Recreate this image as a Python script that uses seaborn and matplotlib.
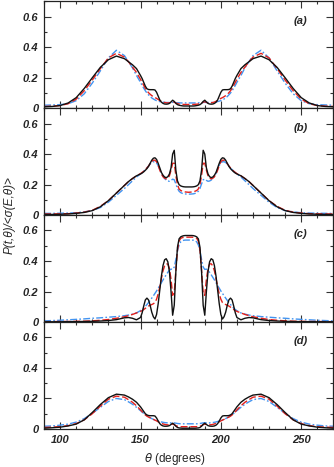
import matplotlib
matplotlib.use("Agg")
import matplotlib.pyplot as plt
import seaborn as sns
import pandas as pd
from matplotlib.ticker import MultipleLocator, FuncFormatter

theta = [90, 95, 100, 105, 110, 115, 120, 125, 130, 135, 140, 142.5, 145, 147.5,
         150, 151, 152, 153, 154, 155, 156, 157, 158, 159,
         160, 161, 162, 163, 164, 165, 166, 167, 168, 169,
         170, 171, 172, 173, 174, 175, 176, 177, 178, 179,
         180,
         181, 182, 183, 184, 185, 186, 187, 188, 189, 190,
         191, 192, 193, 194, 195, 196, 197, 198, 199, 200,
         201, 202, 203, 204, 205, 206, 207, 208, 209, 210,
         212.5, 215, 217.5,
         220, 225, 230, 235, 240, 245, 250, 255, 260, 265, 270]

a_black = [.010,.012,.018,.035,.070,.130,.200,.268,.318,.342,.325,
           .305,.285,.260,
           .215,.195,.170,.145,.128,.123,.122,.122,.122,.120,
           .105,.080,.055,.040,.032,.028,.027,.028,.032,.042,
           .053,.045,.032,.024,.020,.018,.016,.015,.015,.015,
           .015,
           .015,.015,.015,.016,.018,.020,.024,.032,.045,.053,
           .042,.032,.028,.027,.028,.032,.040,.055,.080,.105,
           .120,.122,.122,.122,.123,.128,.145,.170,.195,.215,
           .260,.285,.305,
           .325,.342,.318,.268,.200,.130,.070,.035,.018,.012,.010]
a_red = [.012,.014,.018,.030,.060,.115,.185,.260,.330,.360,.335,
         .305,.270,.235,
         .190,.170,.150,.130,.115,.102,.092,.083,.076,.070,
         .065,.058,.051,.046,.041,.038,.036,.035,.036,.039,
         .043,.040,.035,.031,.028,.027,.026,.025,.025,.025,
         .025,
         .025,.025,.025,.026,.027,.028,.031,.035,.040,.043,
         .039,.036,.035,.036,.038,.041,.046,.051,.058,.065,
         .070,.076,.083,.092,.102,.115,.130,.150,.170,.190,
         .235,.270,.305,
         .335,.360,.330,.260,.185,.115,.060,.030,.018,.014,.012]
a_blue = [.020,.022,.024,.030,.050,.095,.165,.245,.330,.380,.345,
          .305,.265,.215,
          .170,.150,.132,.115,.100,.088,.077,.068,.061,.055,
          .050,.047,.044,.042,.040,.039,.038,.038,.038,.038,
          .039,.038,.037,.036,.036,.035,.035,.035,.035,.035,
          .035,
          .035,.035,.035,.035,.035,.036,.036,.037,.038,.039,
          .038,.038,.038,.038,.039,.040,.042,.044,.047,.050,
          .055,.061,.068,.077,.088,.100,.115,.132,.150,.170,
          .215,.265,.305,
          .345,.380,.330,.245,.165,.095,.050,.030,.024,.022,.020]

b_black = [.005,.005,.006,.008,.012,.018,.030,.055,.095,.145,.195,
           .220,.240,.258,
           .270,.276,.284,.294,.305,.320,.340,.360,.373,.376,
           .365,.340,.310,.280,.262,.250,.246,.252,.270,.310,
           .400,.425,.295,.225,.200,.192,.188,.186,.185,.185,
           .185,
           .185,.185,.186,.188,.192,.200,.225,.295,.425,.400,
           .310,.270,.252,.246,.250,.262,.280,.310,.340,.365,
           .376,.373,.360,.340,.320,.305,.294,.284,.276,.270,
           .258,.240,.220,
           .195,.145,.095,.055,.030,.018,.012,.008,.006,.005,.005]
b_red = [.008,.008,.009,.010,.014,.020,.032,.058,.095,.145,.195,
         .220,.240,.258,
         .272,.280,.288,.298,.310,.322,.338,.352,.360,.360,
         .350,.325,.295,.270,.252,.242,.238,.242,.258,.295,
         .340,.340,.260,.200,.172,.162,.157,.154,.152,.151,
         .150,
         .151,.152,.154,.157,.162,.172,.200,.260,.340,.340,
         .295,.258,.242,.238,.242,.252,.270,.295,.325,.350,
         .360,.360,.352,.338,.322,.310,.298,.288,.280,.272,
         .258,.240,.220,
         .195,.145,.095,.058,.032,.020,.014,.010,.009,.008,.008]
b_blue = [.012,.012,.013,.014,.016,.022,.030,.050,.085,.130,.175,
          .200,.225,.250,
          .270,.278,.288,.298,.310,.322,.335,.345,.350,.350,
          .342,.325,.300,.275,.255,.240,.230,.224,.222,.228,
          .236,.232,.205,.175,.157,.148,.143,.140,.139,.138,
          .138,
          .138,.139,.140,.143,.148,.157,.175,.205,.232,.236,
          .228,.222,.224,.230,.240,.255,.275,.300,.325,.342,
          .350,.350,.345,.335,.322,.310,.298,.288,.278,.270,
          .250,.225,.200,
          .175,.130,.085,.050,.030,.022,.016,.014,.013,.012,.012]

c_black = [.002,.002,.002,.003,.003,.004,.005,.007,.010,.016,.028,
           .030,.025,.015,
           .030,.060,.105,.145,.157,.145,.110,.065,.035,.020,
           .050,.120,.210,.300,.370,.408,.415,.395,.330,.200,
           .045,.110,.330,.490,.545,.558,.563,.566,.567,.567,
           .567,
           .567,.567,.566,.563,.558,.545,.490,.330,.110,.045,
           .200,.330,.395,.415,.408,.370,.300,.210,.120,.050,
           .020,.035,.065,.110,.145,.157,.145,.105,.060,.030,
           .015,.025,.030,
           .028,.016,.010,.007,.005,.004,.003,.003,.002,.002,.002]
c_red = [.003,.003,.004,.004,.005,.006,.008,.012,.017,.025,.035,
         .042,.050,.060,
         .070,.075,.082,.090,.098,.105,.110,.115,.120,.128,
         .150,.185,.230,.285,.335,.368,.382,.380,.350,.280,
         .175,.190,.340,.470,.530,.548,.553,.555,.556,.556,
         .556,
         .556,.556,.555,.553,.548,.530,.470,.340,.190,.175,
         .280,.350,.380,.382,.368,.335,.285,.230,.185,.150,
         .128,.120,.115,.110,.105,.098,.090,.082,.075,.070,
         .060,.050,.042,
         .035,.025,.017,.012,.008,.006,.005,.004,.004,.003,.003]
c_blue = [.008,.010,.012,.015,.018,.021,.025,.028,.032,.036,.042,
          .046,.052,.060,
          .075,.082,.092,.103,.115,.128,.142,.157,.172,.188,
          .204,.222,.240,.258,.276,.293,.310,.326,.340,.347,
          .345,.360,.410,.465,.505,.525,.533,.536,.537,.537,
          .537,
          .537,.537,.536,.533,.525,.505,.465,.410,.360,.345,
          .347,.340,.326,.310,.293,.276,.258,.240,.222,.204,
          .188,.172,.157,.142,.128,.115,.103,.092,.082,.075,
          .060,.052,.046,
          .042,.036,.032,.028,.025,.021,.018,.015,.012,.010,.008]

d_black = [.005,.008,.012,.020,.032,.060,.108,.160,.205,.228,.222,
           .210,.195,.175,
           .145,.130,.115,.100,.092,.088,.087,.087,.087,.085,
           .072,.052,.035,.025,.020,.018,.018,.019,.022,.030,
           .038,.030,.018,.010,.007,.006,.005,.005,.005,.005,
           .005,
           .005,.005,.005,.005,.006,.007,.010,.018,.030,.038,
           .030,.022,.019,.018,.018,.020,.025,.035,.052,.072,
           .085,.087,.087,.087,.088,.092,.100,.115,.130,.145,
           .175,.195,.210,
           .222,.228,.205,.160,.108,.060,.032,.020,.012,.008,.005]
d_red = [.010,.012,.015,.022,.035,.060,.100,.150,.195,.215,.208,
         .192,.175,.152,
         .125,.113,.102,.092,.084,.078,.073,.068,.063,.058,
         .053,.047,.042,.037,.033,.030,.028,.027,.027,.029,
         .032,.028,.022,.018,.016,.015,.015,.015,.015,.015,
         .015,
         .015,.015,.015,.015,.015,.016,.018,.022,.028,.032,
         .029,.027,.027,.028,.030,.033,.037,.042,.047,.053,
         .058,.063,.068,.073,.078,.084,.092,.102,.113,.125,
         .152,.175,.192,
         .208,.215,.195,.150,.100,.060,.035,.022,.015,.012,.010]
d_blue = [.018,.020,.025,.032,.045,.068,.102,.142,.180,.200,.192,
          .178,.162,.142,
          .120,.111,.102,.094,.087,.080,.074,.068,.063,.059,
          .055,.052,.049,.046,.044,.042,.041,.040,.040,.040,
          .041,.040,.038,.036,.035,.034,.034,.034,.034,.034,
          .034,
          .034,.034,.034,.034,.034,.035,.036,.038,.040,.041,
          .040,.040,.040,.041,.042,.044,.046,.049,.052,.055,
          .059,.063,.068,.074,.080,.087,.094,.102,.111,.120,
          .142,.162,.178,
          .192,.200,.180,.142,.102,.068,.045,.032,.025,.020,.018]

panel_labels = ["(a)", "(b)", "(c)", "(d)"]
x_ticks = [100, 150, 200, 250]
y_ticks = [0, 0.2, 0.4, 0.6]

panels = [(a_black, a_red, a_blue), (b_black, b_red, b_blue),
          (c_black, c_red, c_blue), (d_black, d_red, d_blue)]

sns.set_style("ticks")
plt.rcParams["font.family"] = ["Liberation Sans", "DejaVu Sans"]

fig, axes = plt.subplots(4, 1, figsize=(3.34, 4.67), dpi=100, sharex=True)
fig.subplots_adjust(left=0.132, right=0.998, top=0.997, bottom=0.0814, hspace=0)

styles = [("blue", "#4394f0", (5, 1.6, 1.2, 1.6)),
          ("red", "#e3201c", (5, 2)),
          ("black", "#111111", None)]

for ax, lab, (k, r, b) in zip(axes, panel_labels, panels):
    series = {"black": k, "red": r, "blue": b}
    for name, col, dash in styles:
        df = pd.DataFrame({"theta": theta, "P": series[name]})
        sns.lineplot(data=df, x="theta", y="P", color=col, lw=1.0, ax=ax,
                     legend=False, errorbar=None, sort=False)
        if dash is not None:
            ax.lines[-1].set_dashes(dash)
    ax.set_xlim(90, 270)
    ax.set_ylim(0, 0.7)
    ax.set_xlabel("")
    ax.set_ylabel("")
    ax.set_xticks(x_ticks)
    ax.xaxis.set_minor_locator(MultipleLocator(10))
    ax.set_yticks(y_ticks)
    ax.yaxis.set_minor_locator(MultipleLocator(0.1))
    ax.yaxis.set_major_formatter(FuncFormatter(lambda v, p: "0" if abs(v) < 1e-9 else f"{v:.1f}"))
    ax.tick_params(which="both", direction="in", top=True, right=True,
                   width=0.8, color="#333333")
    ax.tick_params(which="major", length=5, labelsize=8, pad=4)
    ax.tick_params(which="minor", length=2.5)
    for t in ax.get_yticklabels() + ax.get_xticklabels():
        t.set_fontstyle("italic")
        t.set_fontweight("bold")
    for s in ax.spines.values():
        s.set_linewidth(0.9)
        s.set_color("#222222")
    ax.text(0.888, 0.82, lab, transform=ax.transAxes, ha="center", va="center",
            fontsize=8, fontstyle="italic", fontweight="bold")

for t in axes[-1].get_xticklabels():
    t.set_fontstyle("italic")
    t.set_fontweight("bold")

fig.text(0.524, 0.017, r"$\theta$ (degrees)", ha="center", va="center", fontsize=8.5)
fig.text(0.028, 0.54, r"P(t,θ)/<σ(E,θ)>", rotation=90, ha="center", va="center",
         fontsize=8.5, fontstyle="italic")

fig.savefig("out.png", dpi=100)
